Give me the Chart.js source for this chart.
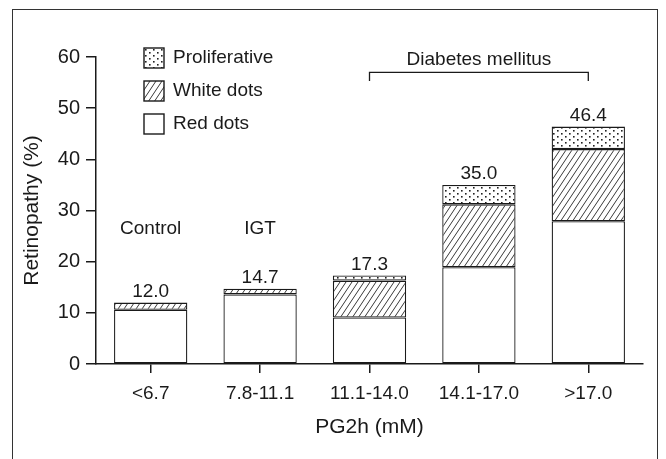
<!DOCTYPE html>
<html>
<head>
<meta charset="utf-8">
<script src="https://cdn.jsdelivr.net/npm/chart.js@4.4.0/dist/chart.umd.min.js"></script>
<style>
  html, body { margin: 0; padding: 0; background: #fff; }
  #wrap { position: relative; width: 666px; height: 459px; overflow: hidden; }
  #frame { position: absolute; left: 12px; top: 9px; width: 644px; height: 470px; border: 1.5px solid #333; pointer-events: none; }
</style>
</head>
<body>
<div id="wrap">
  <canvas id="chart" width="666" height="459"></canvas>
  <div id="frame"></div>
</div>
<script>
// values (retinopathy %, stacked)
const categories = ['<6.7', '7.8-11.1', '11.1-14.0', '14.1-17.0', '>17.0'];
const redDots = [10.6, 13.6, 9.1, 18.9, 27.9];
const whiteDots = [1.4, 1.1, 7.2, 12.3, 14.1];
const proliferative = [null, null, 1.0, 3.8, 4.4];
const totalLabels = ['12.0', '14.7', '17.3', '35.0', '46.4'];
const yTickValues = [0, 10, 20, 30, 40, 50, 60];

const groupLabels = [
  { text: 'Control', index: 0, value: 26.4 },
  { text: 'IGT', index: 1, value: 26.4 }
];
const diabetesGroup = { text: 'Diabetes mellitus', from: 2, to: 4, textValue: 59.4, lineValue: 57.0, endValue: 55.3 };

const FONT = "'Liberation Sans', Arial, Helvetica, sans-serif";
const INK = '#1a1a1a';

Chart.defaults.font.family = FONT;
Chart.defaults.color = INK;

const makeHatch = () => {
  const c = document.createElement('canvas');
  c.width = 6; c.height = 9;
  const g = c.getContext('2d');
  g.fillStyle = '#fff';
  g.fillRect(0, 0, 6, 9);
  g.strokeStyle = '#222';
  g.lineWidth = 0.9;
  [-6, 0, 6].forEach(x0 => {
    g.beginPath();
    g.moveTo(x0, 9);
    g.lineTo(x0 + 6, 0);
    g.stroke();
  });
  return g.createPattern(c, 'repeat');
};

const makeDots = () => {
  const c = document.createElement('canvas');
  c.width = 8; c.height = 6;
  const g = c.getContext('2d');
  g.fillStyle = '#fff';
  g.fillRect(0, 0, 8, 6);
  g.fillStyle = '#222';
  g.fillRect(1, 1, 1.6, 1.6);
  g.fillRect(5, 4, 1.6, 1.6);
  return g.createPattern(c, 'repeat');
};

const hatch = makeHatch();
const dots = makeDots();

const annotations = {
  id: 'annotations',
  afterDatasetsDraw(chart) {
    const { ctx, chartArea, scales: { x, y } } = chart;
    ctx.save();
    ctx.fillStyle = INK;
    ctx.strokeStyle = INK;
    ctx.font = `19px ${FONT}`;
    ctx.textAlign = 'center';
    ctx.textBaseline = 'middle';

    // totals above each bar
    totalLabels.forEach((t, i) => {
      const sum = redDots[i] + whiteDots[i] + (proliferative[i] || 0);
      ctx.fillText(t, x.getPixelForValue(i), y.getPixelForValue(sum) - 11);
    });

    groupLabels.forEach(g => {
      ctx.fillText(g.text, x.getPixelForValue(g.index), y.getPixelForValue(g.value));
    });

    // diabetes bracket
    const bx0 = x.getPixelForValue(diabetesGroup.from);
    const bx1 = x.getPixelForValue(diabetesGroup.to);
    const by = y.getPixelForValue(diabetesGroup.lineValue);
    const byEnd = y.getPixelForValue(diabetesGroup.endValue);
    ctx.lineWidth = 1.3;
    ctx.beginPath();
    ctx.moveTo(bx0, byEnd);
    ctx.lineTo(bx0, by);
    ctx.lineTo(bx1, by);
    ctx.lineTo(bx1, byEnd);
    ctx.stroke();
    ctx.fillText(diabetesGroup.text, (bx0 + bx1) / 2, y.getPixelForValue(diabetesGroup.textValue));

    // legend, top-left inside the plot
    const boxX = chartArea.left + 48;
    const boxSize = 20;
    ctx.textAlign = 'left';
    const ds = chart.data.datasets.slice().reverse();
    ds.forEach((d, k) => {
      const cy = chartArea.top + 1 + k * 33;
      ctx.fillStyle = d.backgroundColor;
      ctx.fillRect(boxX, cy - boxSize / 2, boxSize, boxSize);
      ctx.lineWidth = 1.4;
      ctx.strokeRect(boxX, cy - boxSize / 2, boxSize, boxSize);
      ctx.fillStyle = INK;
      ctx.fillText(d.label, boxX + 29, cy);
    });
    ctx.restore();
  }
};

new Chart(document.getElementById('chart'), {
  type: 'bar',
  data: {
    labels: categories,
    datasets: [
      { label: 'Red dots', data: redDots, backgroundColor: '#fff' },
      { label: 'White dots', data: whiteDots, backgroundColor: hatch },
      { label: 'Proliferative', data: proliferative, backgroundColor: dots }
    ]
  },
  options: {
    responsive: false,
    animation: false,
    layout: { padding: { top: 57, right: 23, left: 0, bottom: 0 } },
    datasets: {
      bar: {
        borderColor: INK,
        borderWidth: 1.3,
        borderSkipped: false,
        barPercentage: 0.67,
        categoryPercentage: 1
      }
    },
    plugins: {
      legend: { display: false },
      tooltip: { enabled: false }
    },
    scales: {
      x: {
        stacked: true,
        grid: { offset: false, drawOnChartArea: false, tickLength: 9, color: INK, lineWidth: 1.5 },
        border: { color: INK, width: 1.5 },
        ticks: { padding: 9, font: { size: 19 } },
        title: { display: true, text: 'PG2h (mM)', font: { size: 21 }, padding: { top: 0, bottom: 19 } },
        afterFit: s => { s.height = 95; }
      },
      y: {
        stacked: true,
        min: 0,
        max: 60,
        afterBuildTicks: s => { s.ticks = yTickValues.map(v => ({ value: v })); },
        grid: { drawOnChartArea: false, tickLength: 10, color: INK, lineWidth: 1.5 },
        border: { color: INK, width: 1.5 },
        ticks: { padding: 6, font: { size: 20 } },
        title: { display: true, text: 'Retinopathy (%)', font: { size: 21 }, padding: { top: 20, bottom: 0 } },
        afterFit: s => { s.width = 96; }
      }
    }
  },
  plugins: [annotations]
});
</script>
</body>
</html>
